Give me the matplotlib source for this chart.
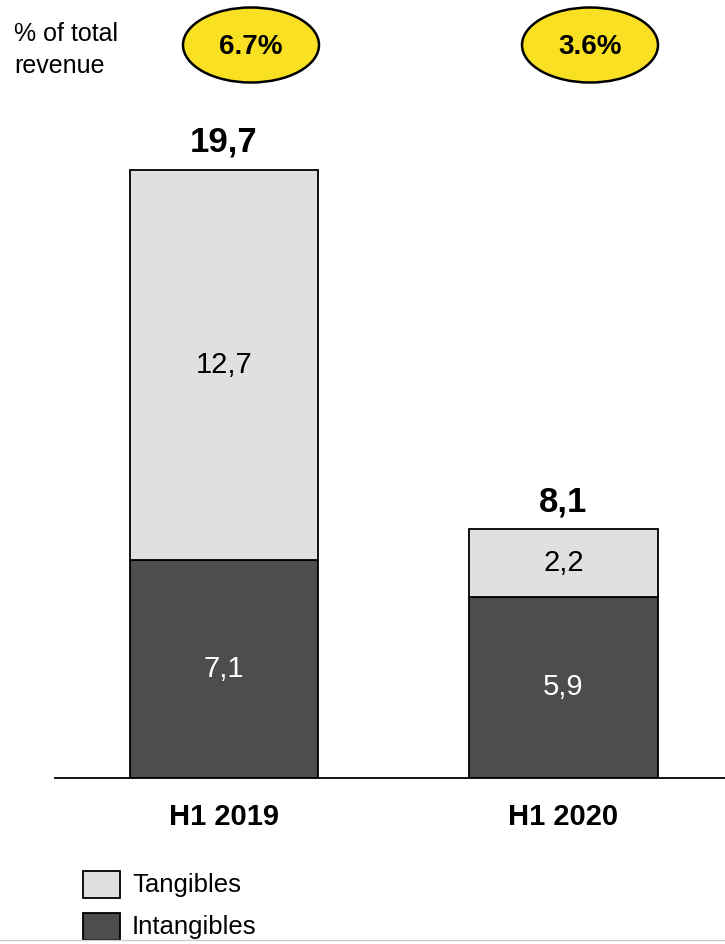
import matplotlib.pyplot as plt
from matplotlib.patches import Ellipse, Rectangle
from matplotlib.lines import Line2D

plt.rcParams['font.family'] = ['Liberation Sans', 'DejaVu Sans']

# data
periods = ['H1 2019', 'H1 2020']
intangibles = [7.1, 5.9]
tangibles = [12.7, 2.2]
totals = [19.7, 8.1]
share_of_revenue = ['6.7%', '3.6%']

col_tang = '#e0e0e0'
col_intang = '#4d4d4d'
col_yellow = '#fae022'


def fmt(v):
    return f'{v:.1f}'.replace('.', ',')


fig = plt.figure(figsize=(7.25, 9.44), dpi=100)
ax = fig.add_axes([55 / 725, (944 - 778) / 944, 670 / 725, 678 / 944])

x = [0, 1]
w = 0.554
ax.bar(x, intangibles, width=w, color=col_intang, edgecolor='black', linewidth=1.3, zorder=2)
ax.bar(x, tangibles, width=w, bottom=intangibles, color=col_tang, edgecolor='black',
       linewidth=1.3, zorder=2)

for i in range(len(x)):
    ax.text(x[i], intangibles[i] / 2, fmt(intangibles[i]), ha='center', va='center',
            color='white', fontsize=21)
    ax.text(x[i], intangibles[i] + tangibles[i] / 2, fmt(tangibles[i]), ha='center',
            va='center', color='black', fontsize=21)
    ax.annotate(fmt(totals[i]), (x[i], intangibles[i] + tangibles[i]), xytext=(0, 8),
                textcoords='offset points', ha='center', va='bottom', fontsize=25,
                fontweight='bold')

ax.set_xlim(-0.4978, 1.4757)
ax.set_ylim(0, 22.08)
ax.set_xticks(x)
ax.set_xticklabels(periods, fontsize=21, fontweight='bold')
ax.tick_params(axis='x', length=0, pad=18)
ax.set_yticks([])
for s in ['top', 'right', 'left']:
    ax.spines[s].set_visible(False)
ax.spines['bottom'].set_linewidth(1.3)
ax.spines['bottom'].set_zorder(3)

# % of total revenue row
fig.text(14 / 725, 1 - 50 / 944, '% of total\nrevenue', fontsize=18, ha='left', va='center',
         linespacing=1.4)
ell_x = [251 / 725, 590 / 725]
for cx, lab in zip(ell_x, share_of_revenue):
    e = Ellipse((cx, 1 - 45 / 944), 136 / 725, 75 / 944, transform=fig.transFigure,
                facecolor=col_yellow, edgecolor='black', linewidth=1.8)
    fig.patches.append(e)
    fig.text(cx, 1 - 47 / 944, lab, ha='center', va='center', fontsize=20, fontweight='bold')

# legend
leg = [(col_tang, 'Tangibles', 885), (col_intang, 'Intangibles', 927)]
for c, lab, yc in leg:
    r = Rectangle((83 / 725, 1 - (yc + 13) / 944), 37 / 725, 27 / 944, transform=fig.transFigure,
                  facecolor=c, edgecolor='black', linewidth=1.3)
    fig.patches.append(r)
    fig.text(132 / 725, 1 - yc / 944, lab, ha='left', va='center', fontsize=18.5)

fig.lines.append(Line2D([0, 1], [1 - 940 / 944] * 2, transform=fig.transFigure,
                        color='#cccccc', linewidth=1))

fig.savefig('out.png', dpi=100)
